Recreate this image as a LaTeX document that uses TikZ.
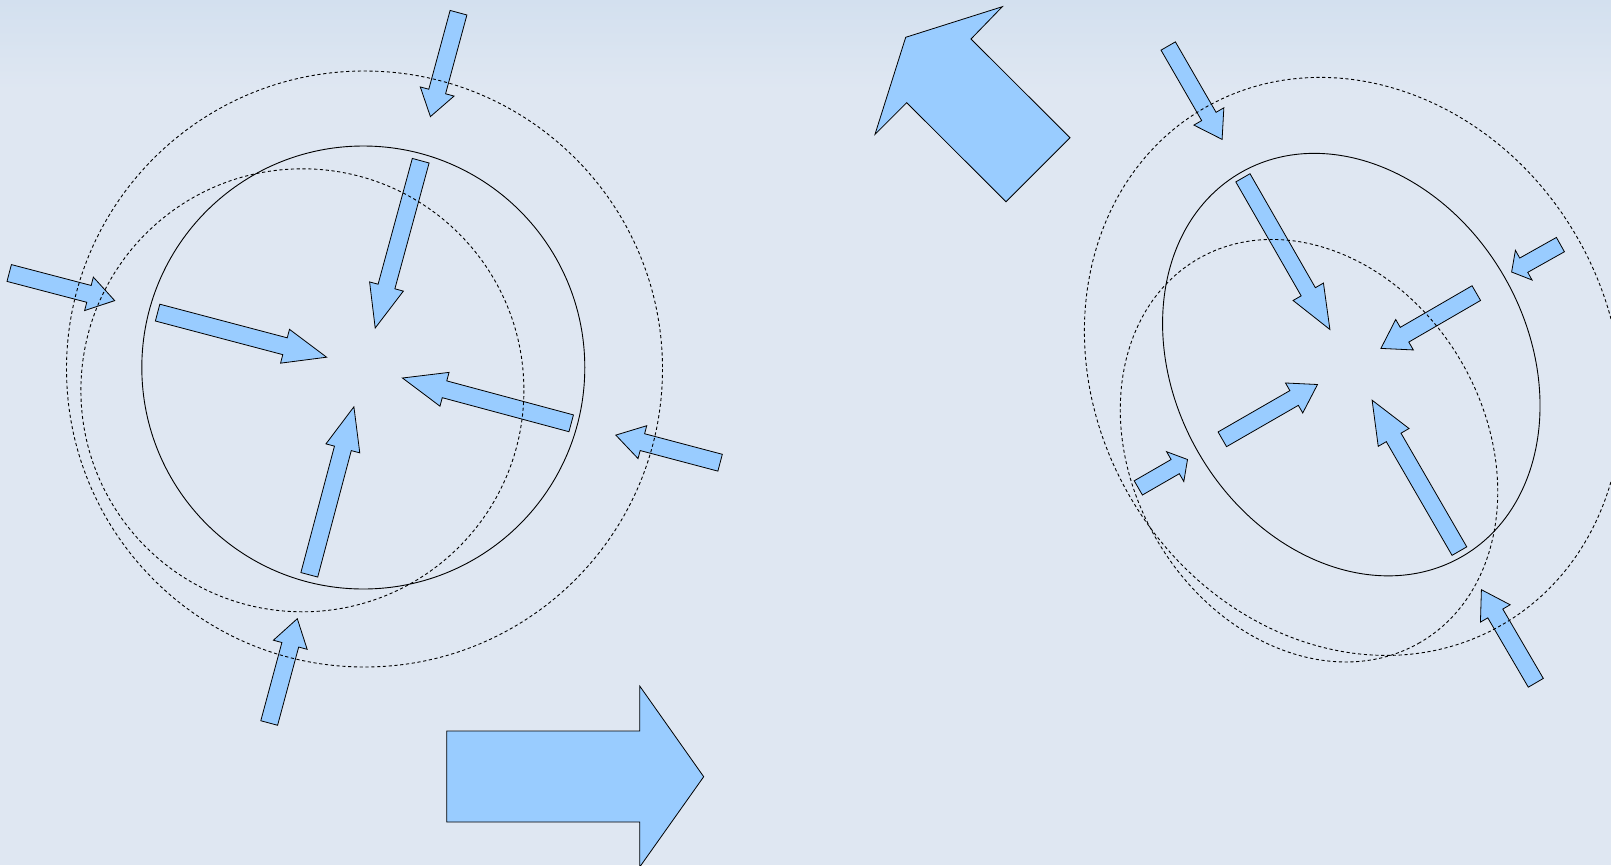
\documentclass[tikz,border=0pt]{standalone}
\usetikzlibrary{calc}
\definecolor{bgtop}{HTML}{D3E0EF}
\definecolor{bgbase}{HTML}{DFE7F2}
\definecolor{arrowfill}{HTML}{99CCFF}
\tikzset{
  arrowshape/.style={fill=arrowfill, draw=black, line width=0.8pt, line join=miter},
  solidring/.style={draw=black, line width=0.9pt},
  dashring/.style={draw=black, line width=0.9pt, dash pattern=on 3.2pt off 2.6pt},
}
% #1 tail centre, #2 tip, #3 half shaft width, #4 half head width, #5 head length
\newcommand\barrow[5]{%
  \coordinate (bT) at (#1);
  \coordinate (bP) at (#2);
  \coordinate (bB) at ($(bP)!#5pt!(bT)$);
  \draw[arrowshape] ($(bT)!#3pt!90:(bP)$) -- ($(bB)!#3pt!90:(bP)$) -- ($(bB)!#4pt!90:(bP)$)
     -- (bP) -- ($(bB)!#4pt!-90:(bP)$) -- ($(bB)!#3pt!-90:(bP)$) -- ($(bT)!#3pt!-90:(bP)$) -- cycle;
}
\begin{document}
\begin{tikzpicture}[x=1pt,y=-1pt]
\useasboundingbox (0,0) rectangle (1611,865);
\fill[bgbase] (0,0) rectangle (1611,865);
\shade[top color=bgtop, bottom color=bgbase] (0,0) rectangle (1611,90);

% ---------- left figure: arrows ----------
\barrow{458.5,12.7}{430.4,116.6}{8.7}{17.5}{26}
\barrow{9.2,273}{114.7,300.6}{8.7}{17.3}{26.6}
\barrow{720.1,462.7}{615.8,435.1}{8.7}{17}{27.5}
\barrow{269.2,723}{297.3,618.7}{8.7}{17.5}{27}
\barrow{420.7,160.7}{375.2,328}{8.7}{17.5}{43}
\barrow{157.6,312.6}{326.6,357.2}{8.7}{17.5}{43}
\barrow{571.2,423.3}{402.5,378}{8.7}{17.5}{43.5}
\barrow{309.3,574.8}{353.9,406.8}{8.7}{17.5}{43}

% ---------- left figure: circles ----------
\draw[solidring] (363.3,367.5) circle [radius=221.5];
\draw[dashring] (364.5,369) circle [radius=298];
\draw[dashring] (302.4,390.3) circle [radius=221.5];

% ---------- big right arrow ----------
\draw[arrowshape] (446.7,731) -- (639.7,731) -- (639.7,686) -- (703.7,776.7)
   -- (639.7,867) -- (639.7,822) -- (446.7,822) -- cycle;

% ---------- big up-left arrow ----------
\draw[arrowshape] (905.7,37.3) -- (1002.3,6.7) -- (971,39) -- (1070,137.7)
   -- (1006,201.7) -- (906.7,102.7) -- (875,134.3) -- cycle;

% ---------- right figure: arrows ----------
\barrow{1168.2,46}{1222.1,139.4}{8.3}{17.3}{26.5}
\barrow{1560.4,244.6}{1511.6,272}{8.2}{17}{13.9}
\barrow{1138.3,487.9}{1187.5,459.5}{8.2}{17.2}{14.2}
\barrow{1535.8,682.8}{1481.4,589.7}{8.7}{17.2}{27.5}
\barrow{1242.9,177.8}{1329.9,329.5}{8.2}{17.5}{43.5}
\barrow{1476.3,293.1}{1380.9,348.4}{8.5}{17.6}{27.3}
\barrow{1222.3,439.3}{1317.5,384.5}{8.5}{17.3}{27}
\barrow{1459.4,551.1}{1372.1,400.2}{8.5}{17.8}{43}

% ---------- right figure: ellipses ----------
\draw[solidring, shift={(1351.3,364.6)}, rotate=-60] (0,0) ellipse [x radius=221.6, y radius=176.4];
\draw[dashring, shift={(1353.2,366.4)}, rotate=-60.3] (0,0) ellipse [x radius=298.2, y radius=258.5];
\draw[dashring, shift={(1309,450.7)}, rotate=-60] (0,0) ellipse [x radius=221.6, y radius=176.4];
\end{tikzpicture}
\end{document}
